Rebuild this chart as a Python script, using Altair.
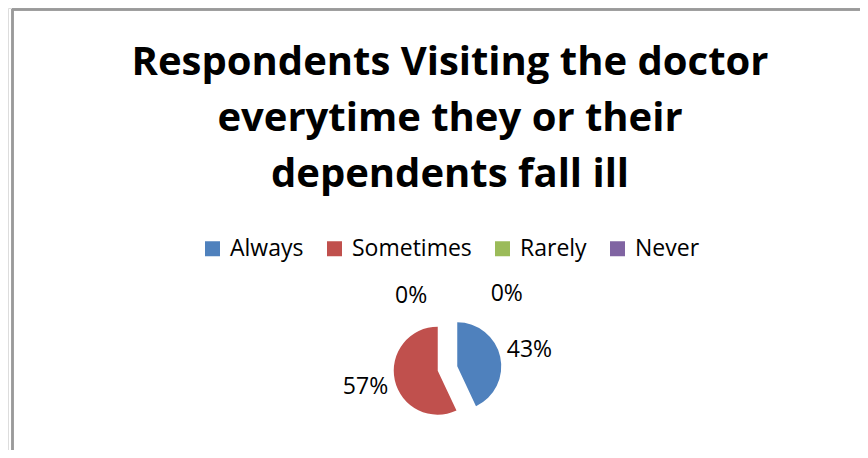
import altair as alt
import pandas as pd

# ---- data ----
categories = ["Always", "Sometimes", "Rarely", "Never"]
values = [43, 57, 0, 0]
colors = ["#4F81BD", "#C0504D", "#9BBB59", "#8064A2"]
title_lines = ["Respondents Visiting the doctor", "everytime they or their", "dependents fall ill"]

df = pd.DataFrame({"category": categories, "value": values, "order": list(range(len(categories)))})
title_df = pd.DataFrame({"line": title_lines, "idx": list(range(len(title_lines)))})

# ---- style / layout ----
W, H = 852, 442
CX, CY, R, EXPLODE = 439.5, 360.5, 44, 10
FONT = "Open Sans"
TITLE_X, TITLE_Y0, TITLE_LH = 442, 67, 56

base = (
    alt.Chart(df)
    .transform_joinaggregate(total="sum(value)")
    .transform_window(cum="sum(value)", sort=[alt.SortField("order")], frame=[None, 0])
    .transform_calculate(
        t0="2*PI*(datum.cum - datum.value)/datum.total",
        t1="2*PI*datum.cum/datum.total",
        pct="format(datum.value/datum.total, '.0%')",
    )
    .transform_calculate(mid="(datum.t0 + datum.t1)/2")
    .transform_calculate(
        cx=f"{CX} + {EXPLODE}*sin(datum.mid)",
        cy=f"{CY} - {EXPLODE}*cos(datum.mid)",
        # zero-size slices get their labels pushed apart, as the original does
        la="datum.category == 'Rarely' ? -0.466 : (datum.category == 'Never' ? 0.674 : datum.mid)",
        lr="datum.category == 'Rarely' ? 81 : (datum.category == 'Never' ? 95 : 84)",
    )
    .transform_calculate(
        lx=f"{CX} + datum.lr*sin(datum.la)",
        ly=f"{CY} - datum.lr*cos(datum.la)",
    )
)

arcs = base.mark_arc(outerRadius=R).encode(
    x=alt.X("cx:Q", scale=None, axis=None),
    y=alt.Y("cy:Q", scale=None, axis=None),
    theta=alt.Theta("t0:Q", scale=None),
    theta2="t1:Q",
    color=alt.Color(
        "category:N",
        scale=alt.Scale(domain=categories, range=colors),
        sort=categories,
        legend=alt.Legend(
            title=None,
            orient="none",
            direction="horizontal",
            legendX=193,
            legendY=229,
            padding=0,
            symbolType="square",
            symbolSize=225,
            symbolStrokeWidth=0,
            labelFont=FONT,
            labelFontSize=23,
            labelColor="#000000",
            labelOffset=6,
            columnPadding=19,
        ),
    ),
)

labels = base.mark_text(font=FONT, fontSize=23, color="#000000", align="center", baseline="middle").encode(
    x=alt.X("lx:Q", scale=None, axis=None),
    y=alt.Y("ly:Q", scale=None, axis=None),
    text="pct:N",
)

title = (
    alt.Chart(title_df)
    .transform_calculate(ty=f"{TITLE_Y0} + datum.idx*{TITLE_LH}")
    .mark_text(font=FONT, fontSize=40, fontWeight="bold", color="#000000", align="center", baseline="alphabetic")
    .encode(
        x=alt.value(TITLE_X),
        y=alt.Y("ty:Q", scale=None, axis=None),
        text="line:N",
    )
)

# chart-area border lines (grey)
frame_top = alt.Chart(df).mark_rule(color="#9a9a9a", strokeWidth=2).encode(
    x=alt.value(4), x2=alt.value(W), y=alt.value(1.5)
)
frame_left = alt.Chart(df).mark_rule(color="#9a9a9a", strokeWidth=2).encode(
    x=alt.value(4.5), y=alt.value(1), y2=alt.value(H)
)

chart = (
    alt.layer(frame_top, frame_left, title, arcs, labels)
    .properties(
        width=W,
        height=H,
        autosize=alt.AutoSizeParams(type="none"),
        padding=0,
    )
    .configure_view(stroke=None)
    .configure(background="#ffffff")
)

chart.save("out.html", embed_options={"renderer": "svg", "actions": False})
